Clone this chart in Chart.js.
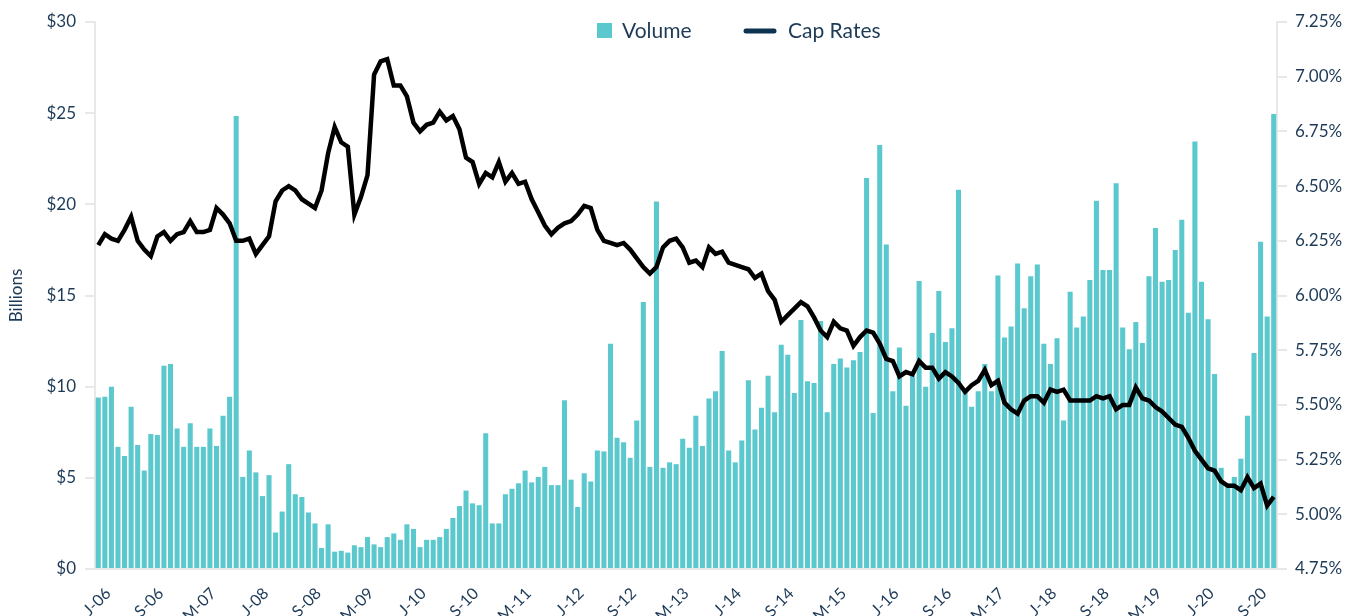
<!DOCTYPE html>
<html>
<head>
<meta charset="utf-8">
<script src="https://cdn.jsdelivr.net/npm/chart.js@4.4.1/dist/chart.umd.min.js"></script>
<style>
  html, body { margin: 0; padding: 0; background: #fff; }
  #wrap { width: 1365px; height: 616px; position: relative; }
</style>
</head>
<body>
<div id="wrap"><canvas id="capChart" width="1365" height="616"></canvas></div>
<script>
// months Jan-2006 .. Dec-2020, one label every 8 months is shown
const years = ['06','07','08','09','10','11','12','13','14','15','16','17','18','19','20'];
const monthLetters = ['J','F','M','A','M','J','J','A','S','O','N','D'];
const categories = [];
years.forEach(function (yy) {
    monthLetters.forEach(function (m) { categories.push(m + '-' + yy); });
});
const tickEvery = 8;

// volume in $ billions
const volume = [
    9.4, 9.45, 10.0, 6.7, 6.2, 8.9, 6.8, 5.4, 7.4, 7.35,
    11.15, 11.25, 7.7, 6.7, 8.0, 6.7, 6.7, 7.7, 6.75, 8.4,
    9.45, 24.85, 5.05, 6.5, 5.3, 4.0, 5.15, 2.0, 3.15, 5.75,
    4.1, 3.95, 3.1, 2.5, 1.15, 2.45, 0.95, 1.0, 0.9, 1.3,
    1.2, 1.75, 1.35, 1.2, 1.75, 1.95, 1.6, 2.45, 2.2, 1.2,
    1.6, 1.6, 1.75, 2.2, 2.8, 3.45, 4.3, 3.6, 3.5, 7.45,
    2.5, 2.5, 4.1, 4.4, 4.7, 5.4, 4.75, 5.05, 5.6, 4.6,
    4.6, 9.25, 4.9, 3.4, 5.25, 4.8, 6.5, 6.45, 12.35, 7.2,
    6.95, 6.1, 8.15, 14.65, 5.6, 20.15, 5.55, 5.85, 5.75, 7.15,
    6.65, 8.4, 6.75, 9.35, 9.75, 11.95, 6.5, 5.85, 7.05, 10.35,
    7.65, 8.85, 10.6, 8.6, 12.3, 11.75, 9.65, 13.65, 10.3, 10.2,
    13.6, 8.6, 11.25, 11.55, 11.05, 11.45, 11.9, 21.45, 8.55, 23.25,
    17.8, 9.75, 12.15, 8.95, 10.6, 15.8, 10.0, 12.95, 15.25, 12.45,
    13.2, 20.8, 9.8, 8.9, 9.75, 11.25, 9.75, 16.1, 12.7, 13.3,
    16.75, 14.3, 16.05, 16.7, 12.35, 11.25, 12.65, 8.15, 15.2, 13.25,
    13.85, 15.85, 20.2, 16.4, 16.4, 21.15, 13.25, 12.05, 13.55, 12.4,
    16.05, 18.7, 15.75, 15.85, 17.5, 19.15, 14.05, 23.45, 15.75, 13.7,
    10.7, 5.55, 4.7, 5.05, 6.05, 8.4, 11.85, 17.95, 13.85, 24.95
];

// cap rates in %
const capRates = [
    6.23, 6.28, 6.26, 6.25, 6.30, 6.36, 6.25, 6.21, 6.18, 6.27,
    6.29, 6.25, 6.28, 6.29, 6.34, 6.29, 6.29, 6.30, 6.40, 6.37,
    6.33, 6.25, 6.25, 6.26, 6.19, 6.23, 6.27, 6.43, 6.48, 6.50,
    6.48, 6.44, 6.42, 6.40, 6.48, 6.65, 6.77, 6.70, 6.68, 6.37,
    6.45, 6.55, 7.01, 7.07, 7.08, 6.96, 6.96, 6.91, 6.79, 6.75,
    6.78, 6.79, 6.84, 6.80, 6.82, 6.76, 6.63, 6.61, 6.51, 6.56,
    6.54, 6.61, 6.52, 6.56, 6.51, 6.52, 6.44, 6.38, 6.32, 6.28,
    6.31, 6.33, 6.34, 6.37, 6.41, 6.40, 6.30, 6.25, 6.24, 6.23,
    6.24, 6.21, 6.17, 6.13, 6.10, 6.13, 6.22, 6.25, 6.26, 6.22,
    6.15, 6.16, 6.13, 6.22, 6.19, 6.20, 6.15, 6.14, 6.13, 6.12,
    6.08, 6.10, 6.02, 5.98, 5.88, 5.91, 5.94, 5.97, 5.95, 5.90,
    5.84, 5.81, 5.88, 5.85, 5.84, 5.77, 5.81, 5.84, 5.83, 5.78,
    5.71, 5.70, 5.63, 5.65, 5.64, 5.70, 5.67, 5.67, 5.62, 5.65,
    5.63, 5.60, 5.56, 5.59, 5.61, 5.66, 5.59, 5.61, 5.51, 5.48,
    5.46, 5.52, 5.54, 5.54, 5.51, 5.57, 5.56, 5.57, 5.52, 5.52,
    5.52, 5.52, 5.54, 5.53, 5.54, 5.48, 5.50, 5.50, 5.58, 5.53,
    5.52, 5.49, 5.47, 5.44, 5.41, 5.40, 5.35, 5.29, 5.25, 5.21,
    5.20, 5.15, 5.13, 5.13, 5.11, 5.17, 5.12, 5.14, 5.04, 5.08
];

const tealColor = '#5bc8ce';
const navyText = '#1d3a57';
const axisGrey = '#e8e8e8';
const fontFamily = 'Lato, "Open Sans", sans-serif';

// legend sits over the plot, so it is drawn by hand instead of the built-in one
const overlayLegend = {
    id: 'overlayLegend',
    afterDraw: function (chart) {
        const ctx = chart.ctx;
        const cy = 31;
        ctx.save();
        ctx.font = '21px ' + fontFamily;
        ctx.textBaseline = 'middle';

        let x = 597;
        ctx.fillStyle = tealColor;
        ctx.fillRect(x, cy - 8, 15, 15);
        ctx.fillStyle = navyText;
        ctx.fillText('Volume', x + 25, cy);

        x = 746;
        ctx.strokeStyle = '#0c3350';
        ctx.lineWidth = 5;
        ctx.lineCap = 'round';
        ctx.beginPath();
        ctx.moveTo(x, cy);
        ctx.lineTo(x + 28, cy);
        ctx.stroke();
        ctx.fillText('Cap Rates', x + 42, cy);
        ctx.restore();
    }
};

const ctx = document.getElementById('capChart').getContext('2d');

const capChart = new Chart(ctx, {
    type: 'bar',
    data: {
        labels: categories,
        datasets: [
            {
                type: 'line',
                label: 'Cap Rates',
                data: capRates,
                yAxisID: 'yRate',
                borderColor: '#000000',
                backgroundColor: '#000000',
                borderWidth: 4.5,
                pointRadius: 0,
                tension: 0,
                order: 0
            },
            {
                type: 'bar',
                label: 'Volume',
                data: volume,
                yAxisID: 'yVol',
                backgroundColor: tealColor,
                categoryPercentage: 1.0,
                barPercentage: 0.77,
                order: 1
            }
        ]
    },
    options: {
        responsive: false,
        animation: false,
        layout: {
            padding: { top: 22, left: 0, right: 0, bottom: 0 }
        },
        plugins: {
            legend: { display: false },
            tooltip: { enabled: false }
        },
        scales: {
            x: {
                offset: true,
                grid: { display: false },
                border: { display: true, color: axisGrey, width: 2 },
                ticks: {
                    autoSkip: false,
                    minRotation: 45,
                    maxRotation: 45,
                    padding: 7,
                    labelOffset: 10,
                    color: navyText,
                    font: { family: fontFamily, size: 16 },
                    callback: function (val, i) {
                        return i % tickEvery === 0 ? categories[i] : '';
                    }
                },
                afterFit: function (scale) { scale.height = 47; }
            },
            yVol: {
                position: 'left',
                min: 0,
                max: 30,
                title: {
                    display: true,
                    text: 'Billions',
                    color: navyText,
                    font: { family: fontFamily, size: 17 },
                    padding: { top: 6, bottom: 0 }
                },
                grid: {
                    drawOnChartArea: false,
                    drawTicks: true,
                    tickLength: 10,
                    color: axisGrey,
                    lineWidth: 2
                },
                border: { display: true, color: axisGrey, width: 2 },
                ticks: {
                    stepSize: 5,
                    padding: 9,
                    color: navyText,
                    font: { family: fontFamily, size: 17 },
                    callback: function (v) { return '$' + v; }
                },
                afterFit: function (scale) { scale.width = 95; }
            },
            yRate: {
                position: 'right',
                min: 4.75,
                max: 7.25,
                grid: {
                    drawOnChartArea: false,
                    drawTicks: true,
                    tickLength: 10,
                    color: axisGrey,
                    lineWidth: 2
                },
                border: { display: true, color: axisGrey, width: 2 },
                ticks: {
                    stepSize: 0.25,
                    padding: 8,
                    color: navyText,
                    font: { family: fontFamily, size: 17 },
                    callback: function (v) { return v.toFixed(2) + '%'; }
                },
                afterFit: function (scale) { scale.width = 88; }
            }
        }
    },
    plugins: [overlayLegend]
});
</script>
</body>
</html>
